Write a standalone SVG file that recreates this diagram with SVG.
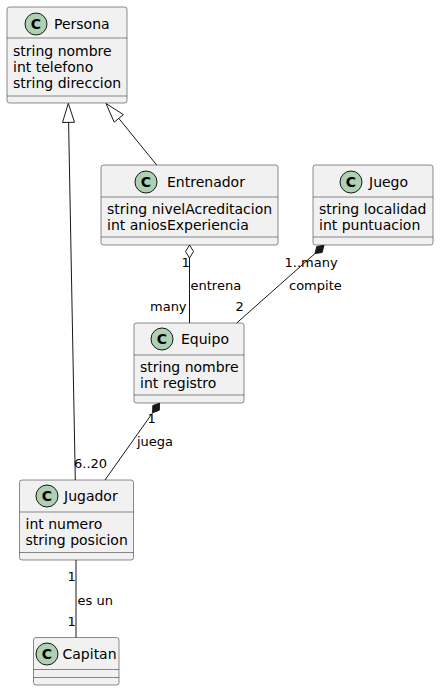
<svg xmlns="http://www.w3.org/2000/svg" width="440" height="692" viewBox="0 0 440 692">
<style>
.box{fill:#F1F1F1;stroke:#181818;stroke-width:0.5}
.sep{stroke:#181818;stroke-width:0.5}
.ci{fill:#ADD1B2;stroke:#181818;stroke-width:1}
.cl{font-family:"DejaVu Sans",sans-serif;font-size:14px;font-weight:bold;fill:#000;text-anchor:middle}
.nm{font-family:"DejaVu Sans",sans-serif;font-size:14px;fill:#000}
.at{font-family:"DejaVu Sans",sans-serif;font-size:14px;fill:#000}
.lb{font-family:"DejaVu Sans",sans-serif;font-size:13px;fill:#000}
.ln{stroke:#181818;stroke-width:1;fill:none}
</style>
<rect width="440" height="692" fill="#FFFFFF"/>
<g id="Persona">
<rect class="box" x="7" y="7" width="120" height="96" rx="2.5"/>
<line class="sep" x1="7" y1="38" x2="127" y2="38"/>
<line class="sep" x1="7" y1="96" x2="127" y2="96"/>
<circle class="ci" cx="36" cy="24" r="11"/>
<text class="cl" x="36" y="29">C</text>
<text class="nm" x="54" y="29">Persona</text>
<text class="at" x="13" y="55.5">string nombre</text>
<text class="at" x="13" y="71.5">int telefono</text>
<text class="at" x="13" y="87.5">string direccion</text>
</g>
<g id="Entrenador">
<rect class="box" x="101" y="165" width="177" height="80" rx="2.5"/>
<line class="sep" x1="101" y1="197" x2="278" y2="197"/>
<line class="sep" x1="101" y1="237" x2="278" y2="237"/>
<circle class="ci" cx="146" cy="182" r="11"/>
<text class="cl" x="146" y="187">C</text>
<text class="nm" x="167" y="187">Entrenador</text>
<text class="at" x="107" y="214">string nivelAcreditacion</text>
<text class="at" x="107" y="230">int aniosExperiencia</text>
</g>
<g id="Juego">
<rect class="box" x="313" y="165" width="120" height="80" rx="2.5"/>
<line class="sep" x1="313" y1="197" x2="433" y2="197"/>
<line class="sep" x1="313" y1="237" x2="433" y2="237"/>
<circle class="ci" cx="351" cy="182" r="11"/>
<text class="cl" x="351" y="187">C</text>
<text class="nm" x="369" y="187">Juego</text>
<text class="at" x="319" y="214">string localidad</text>
<text class="at" x="319" y="230">int puntuacion</text>
</g>
<g id="Equipo">
<rect class="box" x="134" y="323" width="110" height="80" rx="2.5"/>
<line class="sep" x1="134" y1="355" x2="244" y2="355"/>
<line class="sep" x1="134" y1="395" x2="244" y2="395"/>
<circle class="ci" cx="162" cy="339" r="11"/>
<text class="cl" x="162" y="344">C</text>
<text class="nm" x="181" y="344">Equipo</text>
<text class="at" x="140" y="372">string nombre</text>
<text class="at" x="140" y="388">int registro</text>
</g>
<g id="Jugador">
<rect class="box" x="19.5" y="480" width="114" height="80" rx="2.5"/>
<line class="sep" x1="19.5" y1="512" x2="133.5" y2="512"/>
<line class="sep" x1="19.5" y1="552.5" x2="133.5" y2="552.5"/>
<circle class="ci" cx="47" cy="496" r="11"/>
<text class="cl" x="47" y="501">C</text>
<text class="nm" x="64" y="501">Jugador</text>
<text class="at" x="25.5" y="529">int numero</text>
<text class="at" x="25.5" y="545">string posicion</text>
</g>
<g id="Capitan">
<rect class="box" x="33.5" y="637.5" width="85.5" height="47.5" rx="2.5"/>
<line class="sep" x1="33.5" y1="669.5" x2="119" y2="669.5"/>
<line class="sep" x1="33.5" y1="677.5" x2="119" y2="677.5"/>
<circle class="ci" cx="47" cy="654" r="11"/>
<text class="cl" x="47" y="659">C</text>
<text class="nm" x="62.5" y="659">Capitan</text>
</g>
<g id="connectors">
<line class="ln" x1="75.3" y1="480" x2="68.6" y2="122.5"/>
<polygon points="68.3,103.3 62.5,122.5 74.5,122.3" fill="none" stroke="#181818" stroke-width="1"/>
<line class="ln" x1="156.7" y1="165" x2="118.8" y2="118.4"/>
<polygon points="106,103.5 123.4,114.6 114.2,122.2" fill="none" stroke="#181818" stroke-width="1"/>
<line class="ln" x1="189.5" y1="258" x2="189.5" y2="323"/>
<polygon points="189.5,245 185.5,251.5 189.5,258 193.5,251.5" fill="#FFFFFF" stroke="#181818" stroke-width="1"/>
<line class="ln" x1="315" y1="253.5" x2="236.7" y2="323"/>
<polygon points="324,245.3 322.1,252.5 315,253.5 316.8,246.5" fill="#181818" stroke="#181818" stroke-width="1"/>
<line class="ln" x1="152.6" y1="412.8" x2="105" y2="480"/>
<polygon points="159.5,403.2 159.3,410.2 152.6,412.8 152.8,405.6" fill="#181818" stroke="#181818" stroke-width="1"/>
<line class="ln" x1="76" y1="560" x2="76" y2="637.5"/>
<text class="lb" x="181.5" y="266.5">1</text>
<text class="lb" x="190.5" y="289.5">entrena</text>
<text class="lb" x="150" y="310.5">many</text>
<text class="lb" x="235.5" y="311">2</text>
<text class="lb" x="284.5" y="266.5">1..many</text>
<text class="lb" x="289" y="289.5">compite</text>
<text class="lb" x="147.5" y="422.5">1</text>
<text class="lb" x="137" y="445.5">juega</text>
<text class="lb" x="74" y="468">6..20</text>
<text class="lb" x="67.5" y="580.5">1</text>
<text class="lb" x="77.5" y="604.5">es un</text>
<text class="lb" x="67.5" y="626">1</text>
</g>
</svg>
